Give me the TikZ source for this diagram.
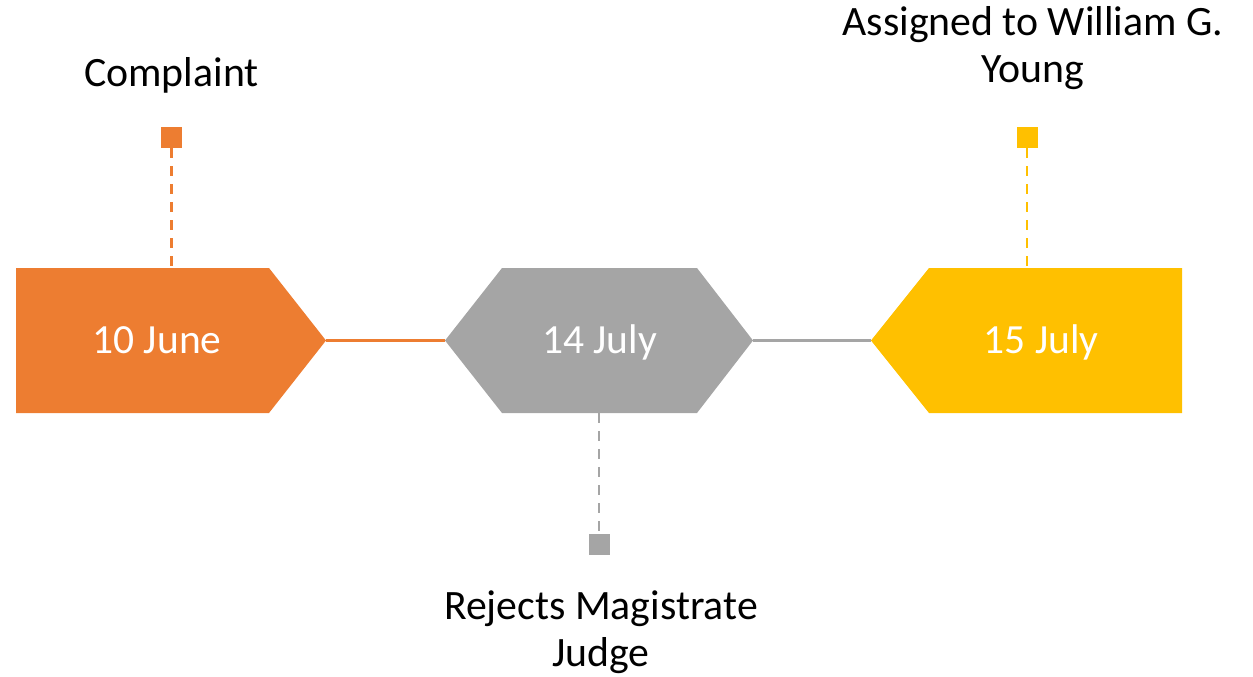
\documentclass[tikz,border=0pt]{standalone}
\usepackage{fontspec}
\setmainfont{Carlito}
\definecolor{corange}{HTML}{ED7D31}
\definecolor{cgray}{HTML}{A5A5A5}
\definecolor{cyellow}{HTML}{FFC000}
\begin{document}
\begin{tikzpicture}[x=1pt,y=-1pt,
  lbl/.style={font=\fontsize{41.8}{47}\selectfont, align=center, inner sep=0pt, anchor=base},
  datelbl/.style={font=\fontsize{41.5}{47}\selectfont, text=white, inner sep=0pt, anchor=base},
  link/.style={line width=2.5pt},
  dashlink/.style={line width=2.5pt, dash pattern=on 10pt off 8pt},
  marker/.style={minimum size=21pt, inner sep=0pt, draw=none}]
\useasboundingbox (0,0) rectangle (1253,677);
% shapes
\fill[corange] (16,268) -- (269,268) -- (326,340.5) -- (269,413) -- (16,413) -- cycle;
\fill[cgray] (445,340.5) -- (502,268) -- (697,268) -- (753,340.5) -- (697,413) -- (502,413) -- cycle;
\fill[cyellow] (871,340.5) -- (929,268) -- (1182,268) -- (1182,413) -- (929,413) -- cycle;
% anchor coordinates
\coordinate (oR) at (326,340.5);
\coordinate (gL) at (445,340.5);
\coordinate (gR) at (753,340.5);
\coordinate (yL) at (871,340.5);
\coordinate (oT) at (171.5,268);
\coordinate (gB) at (599,413);
\coordinate (yT) at (1027,268);
% markers
\node[marker, fill=corange] (mo) at (171.5,137.5) {};
\node[marker, fill=cgray] (mg) at (599,544) {};
\node[marker, fill=cyellow] (my) at (1027,137.5) {};
% connectors
\draw[link, corange] (oR) -- (gL);
\draw[link, cgray] (gR) -- (yL);
\draw[dashlink, corange] (mo.south) -- (oT);
\draw[dashlink, cgray] (gB) -- (mg.north);
\draw[dashlink, cyellow] (my.south) -- (yT);
% date labels
\node[datelbl] (d1) at (157,353) {10 June};
\node[datelbl] (d2) at (599.5,353) {14 July};
\node[datelbl] (d3) at (1041,353) {15 July};
% event labels
\node[lbl] (t1) at (171.5,86) {Complaint};
\node[lbl] (t2) at (1033,82) {Assigned to William G.\\Young};
\node[lbl] (t3) at (601,666) {Rejects Magistrate\\Judge};
\end{tikzpicture}
\end{document}
